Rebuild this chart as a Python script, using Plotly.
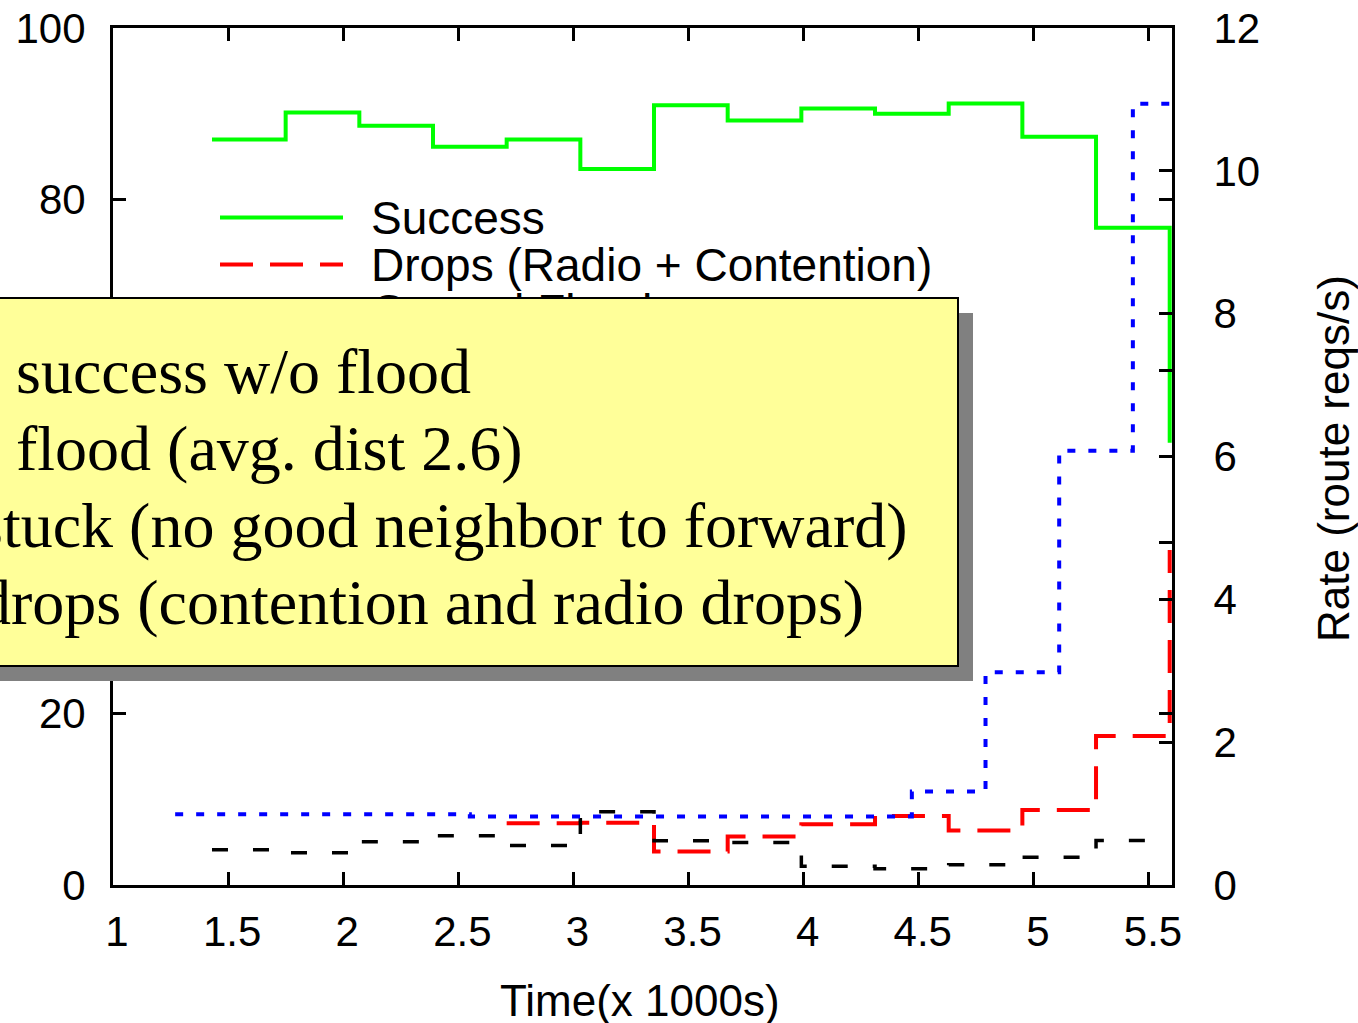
import plotly.graph_objects as go

# ---- data -------------------------------------------------------------
# time bins (x 1000 s) for the percentage series
time_pct = [1.43, 1.75, 2.07, 2.39, 2.71, 3.03, 3.35, 3.67, 3.99, 4.31, 4.63, 4.95, 5.27, 5.59]
success = [87.0, 90.15, 88.6, 86.15, 87.0, 83.55, 91.0, 89.2, 90.6, 90.0, 91.2, 87.3, 76.7, 51.6]

time_drops = [2.71, 3.03, 3.35, 3.67, 3.99, 4.31, 4.63, 4.95, 5.27, 5.59]
drops = [7.2, 7.25, 3.9, 5.65, 7.1, 8.05, 6.35, 8.75, 17.4, 39.1]

stuck = [4.1, 3.75, 5.05, 5.75, 4.6, 8.55, 5.15, 4.95, 2.2, 1.9, 2.35, 3.25, 5.2, 5.2]

# time bins (x 1000 s) for the flood request rate (right axis)
time_rate = [1.27, 1.59, 1.91, 2.23, 2.55, 2.87, 3.19, 3.51, 3.83, 4.15, 4.47, 4.79, 5.11, 5.43, 5.75]
flood_rate = [0.99, 0.99, 0.99, 0.99, 0.96, 0.96, 0.96, 0.96, 0.96, 0.96, 1.31, 2.98, 6.08, 10.94, 10.94]

x_ticks = [1, 1.5, 2, 2.5, 3, 3.5, 4, 4.5, 5, 5.5]
x_ticktext = ["1", "1.5", "2", "2.5", "3", "3.5", "4", "4.5", "5", "5.5"]
y_ticks = [0, 20, 40, 60, 80, 100]
y2_ticks = [0, 2, 4, 6, 8, 10, 12]

legend_names = ["Success", "Drops (Radio + Contention)", "Ground Flood", "Stuck"]
note_lines = [
    "success w/o flood",
    "flood (avg. dist 2.6)",
    "stuck (no good neighbor to forward)",
    "drops (contention and radio drops)",
]

# ---- layout geometry (pixels) -----------------------------------------
W, H = 1358, 1023
L, R, T, B = 113, 186, 28, 138
PW = W - L - R
PH = H - T - B


def px_x(p):
    return (p - L) / PW


def px_y(p):
    return (H - B - p) / PH


SANS = "Liberation Sans, Arial, Helvetica, sans-serif"
SERIF = "Liberation Serif, Times New Roman, serif"

fig = go.Figure()

fig.add_trace(go.Scatter(x=time_pct, y=success, mode="lines", line_shape="hv",
                         line=dict(color="#00ff00", width=4), name=legend_names[0]))
fig.add_trace(go.Scatter(x=time_drops, y=drops, mode="lines", line_shape="hv",
                         line=dict(color="#ff0000", width=4, dash="33px,17px"),
                         name=legend_names[1]))
fig.add_trace(go.Scatter(x=time_rate, y=flood_rate, mode="lines", line_shape="hv",
                         line=dict(color="#0000ff", width=4, dash="8px,13px"),
                         name=legend_names[2], yaxis="y2"))
fig.add_trace(go.Scatter(x=time_pct, y=stuck, mode="lines", line_shape="hv",
                         line=dict(color="#000000", width=3.5, dash="16px,25px"),
                         name=legend_names[3]))

axis_common = dict(showgrid=False, zeroline=False, showline=True, linecolor="black",
                   linewidth=3, ticks="inside", ticklen=13, tickwidth=2.5,
                   tickcolor="black", automargin=False,
                   tickfont=dict(family=SANS, size=42, color="black"))

fig.update_layout(
    width=W, height=H,
    margin=dict(l=L, r=R, t=T, b=B, pad=0, autoexpand=False),
    paper_bgcolor="white", plot_bgcolor="white",
    showlegend=False,
    xaxis=dict(range=[1, 5.6], tickvals=x_ticks, ticktext=x_ticktext, mirror="ticks",
               ticklabelstandoff=8, ticklabelshift=4, **axis_common),
    yaxis=dict(range=[0, 100], tickvals=y_ticks, mirror="ticks",
               ticklabelstandoff=16, **axis_common),
    yaxis2=dict(range=[0, 12], tickvals=y2_ticks, overlaying="y", side="right",
                ticklabelstandoff=30, **axis_common),
)

# ---- key (drawn manually so the samples match the line styles) --------
key_styles = [
    dict(color="#00ff00", width=4, dash="solid"),
    dict(color="#ff0000", width=4, dash="33px,17px"),
    dict(color="#0000ff", width=4, dash="8px,13px"),
    dict(color="#000000", width=3.5, dash="16px,25px"),
]
key_rows = [217.5, 264.5, 311.5, 358.5]
annotations = []
shapes = []
for name, style, yy in zip(legend_names, key_styles, key_rows):
    shapes.append(dict(type="line", xref="paper", yref="paper",
                       x0=px_x(220), x1=px_x(343), y0=px_y(yy), y1=px_y(yy),
                       line=style, layer="above"))
    annotations.append(dict(text=name, xref="paper", yref="paper", x=px_x(370), y=px_y(yy),
                            xanchor="left", yanchor="middle", showarrow=False,
                            borderpad=0, font=dict(family=SANS, size=46, color="black")))

# axis titles
annotations.append(dict(text="Time(x 1000s)", xref="paper", yref="paper",
                        x=px_x(640), y=px_y(1000), xanchor="center", yanchor="middle",
                        showarrow=False, font=dict(family=SANS, size=44, color="black")))
annotations.append(dict(text="Rate (route reqs/s)", xref="paper", yref="paper",
                        x=px_x(1333), y=px_y(459), xanchor="center", yanchor="middle",
                        textangle=-90, showarrow=False,
                        font=dict(family=SANS, size=44, color="black")))

# callout box with drop shadow
box_w, box_h = 1100, 370
annotations.append(dict(text=" ", xref="paper", yref="paper", x=px_x(973), y=px_y(313),
                        xanchor="right", yanchor="top", width=box_w, height=box_h - 2,
                        bgcolor="#808080", borderpad=0, borderwidth=0, showarrow=False))
annotations.append(dict(text=" ", xref="paper", yref="paper", x=px_x(959), y=px_y(297),
                        xanchor="right", yanchor="top", width=box_w - 4, height=box_h - 4,
                        bgcolor="#ffff99", bordercolor="black", borderwidth=2, borderpad=0,
                        showarrow=False))

note_pos = [("left", 15, 371), ("left", 15, 448), ("right", 909, 525), ("right", 865, 602)]
for line, (anchor, xx, yy) in zip(note_lines, note_pos):
    annotations.append(dict(text=line, xref="paper", yref="paper", x=px_x(xx), y=px_y(yy),
                            xanchor=anchor, yanchor="middle", showarrow=False, borderpad=0,
                            font=dict(family=SERIF, size=64, color="black")))

fig.update_layout(annotations=annotations, shapes=shapes)

fig.write_html("out.html")
